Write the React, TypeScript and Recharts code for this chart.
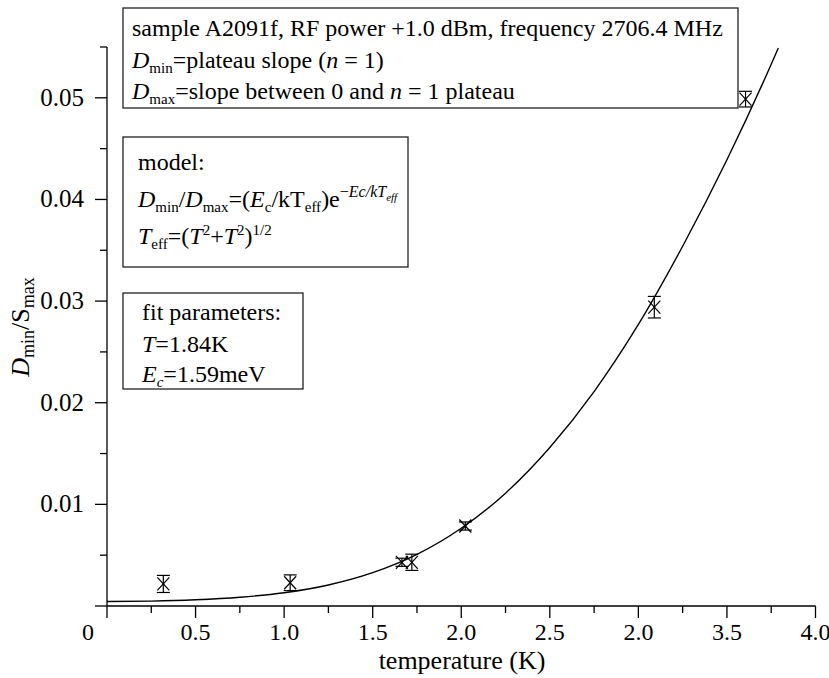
import React from 'react';
import { ComposedChart, XAxis, YAxis, Line, Scatter, ErrorBar, Customized } from 'recharts';

const FONT = "'Liberation Serif', 'Times New Roman', Times, serif";

// fitted model curve
const fitT = [0, 0.25, 0.5, 0.75, 1.0, 1.25, 1.5, 1.75, 2.0, 2.25, 2.5, 2.75, 3.0, 3.25, 3.5, 3.75, 3.79];
const fitV = [0.00044, 0.00048, 0.00061, 0.00086, 0.00131, 0.00207, 0.00328, 0.00508, 0.00765, 0.0111, 0.0156, 0.0211, 0.0277, 0.0354, 0.0439, 0.0533, 0.0549];

// measured points with error bars
const pointT = [0.318, 1.034, 1.665, 1.721, 2.023, 3.09, 3.605];
const pointV = [0.00217, 0.00229, 0.0043, 0.0043, 0.00787, 0.0294, 0.04987];
const pointErr = [0.00084, 0.00077, 0.0004, 0.0008, 0.0004, 0.00106, 0.00077];

const xTicks = [0, 0.25, 0.5, 0.75, 1.0, 1.25, 1.5, 1.75, 2.0, 2.25, 2.5, 2.75, 3.0, 3.25, 3.5, 3.75, 4.0];
const xMajor = [0, 0.5, 1.0, 1.5, 2.0, 2.5, 3.0, 3.5, 4.0];
const xTickLabels = ['0', '0.5', '1.0', '1.5', '2.0', '2.5', '2.0', '3.5', '4.0'];

const yTicks = [0, 0.005, 0.01, 0.015, 0.02, 0.025, 0.03, 0.035, 0.04, 0.045, 0.05, 0.055];
const yMajor = [0, 0.01, 0.02, 0.03, 0.04, 0.05];
const yTickLabels = ['', '0.01', '0.02', '0.03', '0.04', '0.05'];

const fitData = fitT.map((T, i) => ({ T, v: fitV[i] }));
const pointData = pointT.map((T, i) => ({ T, v: pointV[i], err: pointErr[i] }));

const findIdx = (arr: number[], v: number) => arr.findIndex((a) => Math.abs(a - v) < 1e-9);

const XTick = (props: any) => {
  const { x, y, payload } = props;
  const idx = findIdx(xMajor, payload.value);
  const major = idx >= 0;
  const len = major ? 12 : 7;
  const isZero = idx === 0;
  return (
    <g>
      <line x1={x} y1={y} x2={x} y2={y + len} stroke="#000" strokeWidth={1.3} />
      {major && (
        <text x={isZero ? x - 19 : x} y={y + 34} textAnchor="middle" fontFamily={FONT} fontSize={24} fill="#000">
          {xTickLabels[idx]}
        </text>
      )}
    </g>
  );
};

const YTick = (props: any) => {
  const { x, y, payload } = props;
  const idx = findIdx(yMajor, payload.value);
  const major = idx >= 0;
  const len = major ? 12 : 7;
  return (
    <g>
      <line x1={x} y1={y} x2={x - len} y2={y} stroke="#000" strokeWidth={1.3} />
      {major && yTickLabels[idx] && (
        <text x={x - 23} y={y + 8} textAnchor="end" fontFamily={FONT} fontSize={25} fill="#000">
          {yTickLabels[idx]}
        </text>
      )}
    </g>
  );
};

const XMark = (props: any) => {
  const { cx, cy } = props;
  if (cx == null || cy == null) return null;
  return (
    <g>
      <line x1={cx - 6} y1={cy - 6.5} x2={cx + 6} y2={cy + 6.5} stroke="#000" strokeWidth={1.2} />
      <line x1={cx - 6} y1={cy + 6.5} x2={cx + 6} y2={cy - 6.5} stroke="#000" strokeWidth={1.2} />
    </g>
  );
};

const SUB = 15;
const I = (p: any) => <tspan fontStyle="italic" {...p} />;

const Annotations = () => (
  <g fontFamily={FONT} fontSize={24} fill="#000">
    {/* box 1 */}
    <rect x={123} y={8} width={615} height={100} fill="#fff" stroke="#222" strokeWidth={1.3} />
    <text x={132} y={36}>sample A2091f, RF power +1.0 dBm, frequency 2706.4 MHz</text>
    <text x={132} y={68}>
      <I>D</I>
      <tspan fontSize={SUB} dy={5}>min</tspan>
      <tspan dy={-5}>=plateau slope (</tspan>
      <I>n</I>
      <tspan> = 1)</tspan>
    </text>
    <text x={132} y={99}>
      <I>D</I>
      <tspan fontSize={SUB} dy={5}>max</tspan>
      <tspan dy={-5}>=slope between 0 and </tspan>
      <I>n</I>
      <tspan> = 1 plateau</tspan>
    </text>

    {/* box 2 */}
    <rect x={123} y={137} width={285} height={130} fill="#fff" stroke="#222" strokeWidth={1.3} />
    <text x={138} y={170}>model:</text>
    <text x={138} y={207}>
      <I>D</I>
      <tspan fontSize={SUB} dy={5}>min</tspan>
      <tspan dy={-5}>/</tspan>
      <I>D</I>
      <tspan fontSize={SUB} dy={5}>max</tspan>
      <tspan dy={-5}>=(</tspan>
      <I>E</I>
      <tspan fontSize={SUB} dy={5}>c</tspan>
      <tspan dy={-5}>/kT</tspan>
      <tspan fontSize={SUB} dy={5}>eff</tspan>
      <tspan dy={-5}>)e</tspan>
      <tspan fontSize={16} dy={-10}>−</tspan>
      <tspan fontSize={16} fontStyle="italic">Ec/kT</tspan>
      <tspan fontSize={11} fontStyle="italic" dy={4}>eff</tspan>
    </text>
    <text x={138} y={244}>
      <I>T</I>
      <tspan fontSize={SUB} dy={5}>eff</tspan>
      <tspan dy={-5}>=(</tspan>
      <I>T</I>
      <tspan fontSize={SUB} dy={-9}>2</tspan>
      <tspan dy={9}>+</tspan>
      <I>T</I>
      <tspan fontSize={SUB} dy={-9}>2</tspan>
      <tspan dy={9}>)</tspan>
      <tspan fontSize={SUB} dy={-9}>1/2</tspan>
    </text>

    {/* box 3 */}
    <rect x={123} y={293} width={180} height={96} fill="#fff" stroke="#222" strokeWidth={1.3} />
    <text x={142} y={320}>fit parameters:</text>
    <text x={142} y={352}>
      <I>T</I>
      <tspan>=1.84K</tspan>
    </text>
    <text x={142} y={382}>
      <I>E</I>
      <tspan fontSize={SUB} fontStyle="italic" dy={5}>c</tspan>
      <tspan dy={-5}>=1.59meV</tspan>
    </text>

    {/* axis titles */}
    <text transform="rotate(-90, 29, 327)" x={29} y={327} textAnchor="middle" fontSize={26}>
      <I>D</I>
      <tspan fontSize={18} dy={5}>min</tspan>
      <tspan dy={-5}>/S</tspan>
      <tspan fontSize={18} dy={5}>max</tspan>
    </text>
    <text x={462} y={669} textAnchor="middle" fontSize={26}>temperature (K)</text>
  </g>
);

export default function App() {
  return (
    <div style={{ position: 'absolute', left: 0, top: 0, width: 829, height: 678, background: '#fff' }}>
      <ComposedChart width={829} height={678} margin={{ top: 47, right: 13.5, bottom: 42, left: 47 }}>
        <XAxis
          type="number"
          dataKey="T"
          domain={[0, 4]}
          ticks={xTicks}
          interval={0}
          height={30}
          tickSize={0}
          tickMargin={0}
          tick={<XTick />}
          tickLine={false}
          axisLine={{ stroke: '#000', strokeWidth: 1.3 }}
          allowDataOverflow
        />
        <YAxis
          type="number"
          domain={[0, 0.055]}
          ticks={yTicks}
          interval={0}
          width={60}
          tickSize={0}
          tickMargin={0}
          tick={<YTick />}
          tickLine={false}
          axisLine={{ stroke: '#000', strokeWidth: 1.3 }}
          allowDataOverflow
        />
        <Line
          data={fitData}
          dataKey="v"
          type="monotone"
          stroke="#000"
          strokeWidth={1.4}
          dot={false}
          activeDot={false}
          isAnimationActive={false}
        />
        <Scatter data={pointData} dataKey="v" shape={<XMark />} isAnimationActive={false}>
          <ErrorBar dataKey="err" direction="y" width={6.5} stroke="#000" strokeWidth={1.2} />
        </Scatter>
        <Customized component={Annotations} />
      </ComposedChart>
    </div>
  );
}
